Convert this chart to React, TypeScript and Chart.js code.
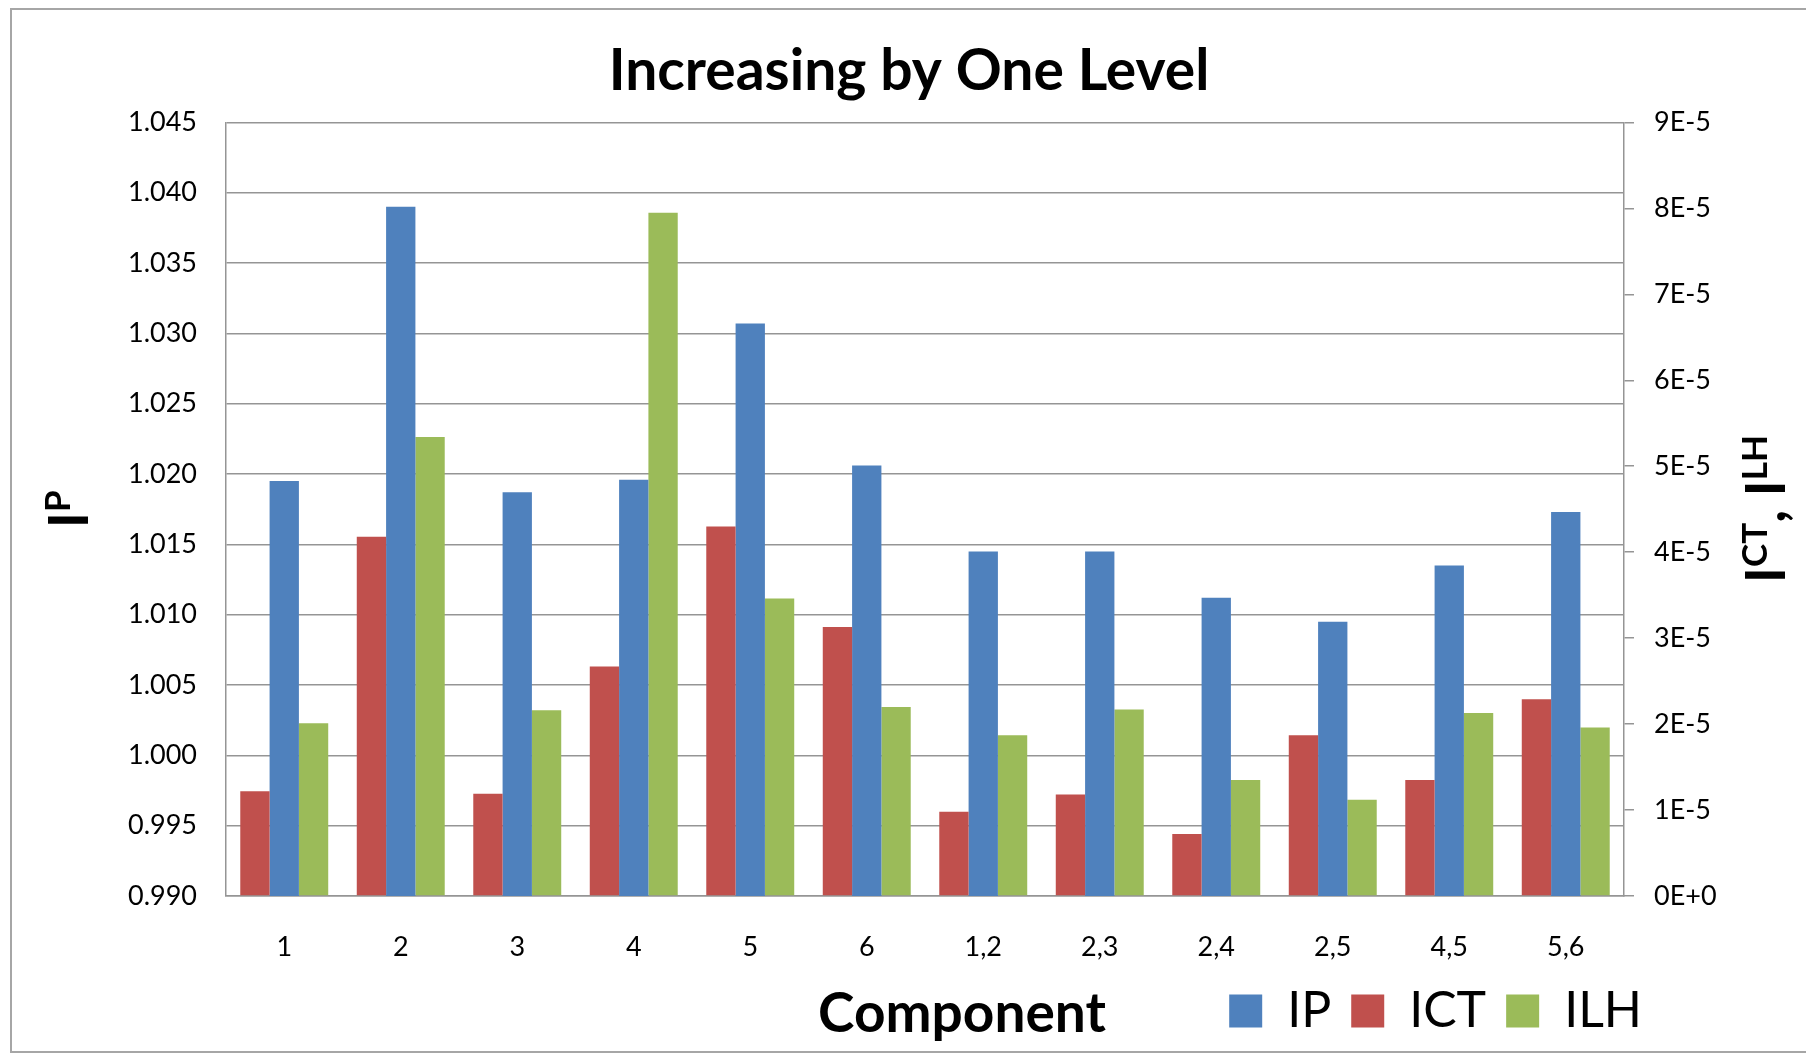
import { useEffect, useRef } from 'react';
import { Chart, registerables } from 'chart.js';

Chart.register(...registerables);

const FONT = 'Lato';

const chartTitle = 'Increasing by One Level';
const xAxisTitle = 'Component';
const categories = ['1', '2', '3', '4', '5', '6', '1,2', '2,3', '2,4', '2,5', '4,5', '5,6'];
const seriesNames = ['IP', 'ICT', 'ILH'];
const ipValues = [1.0195, 1.039, 1.0187, 1.0196, 1.0307, 1.0206, 1.0145, 1.0145, 1.0112, 1.0095, 1.0135, 1.0173];
const ictValues = [1.22e-5, 4.18e-5, 1.19e-5, 2.67e-5, 4.3e-5, 3.13e-5, 0.98e-5, 1.18e-5, 0.72e-5, 1.87e-5, 1.35e-5, 2.29e-5];
const ilhValues = [2.01e-5, 5.34e-5, 2.16e-5, 7.95e-5, 3.46e-5, 2.2e-5, 1.87e-5, 2.17e-5, 1.35e-5, 1.12e-5, 2.13e-5, 1.96e-5];

const leftAxis = { min: 0.99, max: 1.045, step: 0.005 };
const rightAxis = { min: 0, max: 9e-5, step: 1e-5 };

const BLUE = '#4F81BD';
const RED = '#C0504D';
const GREEN = '#9BBB59';
const GRID = '#959595';

function fmtExp(v: number): string {
  if (Math.abs(v) < 1e-20) return '0E+0';
  const e = Math.floor(Math.log10(Math.abs(v)) + 1e-9);
  const m = Math.round(v / Math.pow(10, e));
  return `${m}E${e < 0 ? '-' : '+'}${Math.abs(e)}`;
}

type Part = [string, boolean];

function drawRotatedWithSup(ctx: CanvasRenderingContext2D, baseX: number, centerY: number, parts: Part[]) {
  const big = `bold 55px ${FONT}`;
  const small = `bold 35px ${FONT}`;
  let total = 0;
  for (const [t, sup] of parts) {
    ctx.font = sup ? small : big;
    total += ctx.measureText(t).width;
  }
  ctx.save();
  ctx.translate(baseX, centerY);
  ctx.rotate(-Math.PI / 2);
  ctx.textAlign = 'left';
  ctx.textBaseline = 'alphabetic';
  let x = -total / 2;
  for (const [t, sup] of parts) {
    ctx.font = sup ? small : big;
    ctx.fillText(t, x, sup ? -18 : 0);
    x += ctx.measureText(t).width;
  }
  ctx.restore();
}

const axisTitlesPlugin = {
  id: 'axisTitles',
  afterLayout(chart: any) {
    // place the legend row so that it ends just right of the plot, beside the x-axis title
    const lg = chart.legend;
    if (lg) {
      const w = lg.right - lg.left;
      lg.right = chart.chartArea.right + 38;
      lg.left = lg.right - w;
    }
  },
  afterDraw(chart: any) {
    const ctx: CanvasRenderingContext2D = chart.ctx;
    const a = chart.chartArea;
    const cy = (a.top + a.bottom) / 2;
    ctx.save();
    ctx.fillStyle = '#000';
    drawRotatedWithSup(ctx, a.left - 138, cy, [['I', false], ['P', true]]);
    drawRotatedWithSup(ctx, a.right + 161, cy, [
      ['I', false],
      ['CT', true],
      [', ', false],
      ['I', false],
      ['LH', true],
    ]);
    ctx.font = `bold 55px ${FONT}`;
    ctx.textAlign = 'center';
    ctx.textBaseline = 'middle';
    ctx.fillText(xAxisTitle, (a.left + a.right) / 2 + 37, a.bottom + 118);
    ctx.restore();
  },
};

export default function App() {
  const ref = useRef<HTMLCanvasElement>(null);

  useEffect(() => {
    document.body.style.margin = '0';
    document.body.style.overflow = 'hidden';
    const canvas = ref.current;
    if (!canvas) return;
    const tickFont = { family: FONT, size: 27 };
    const chart = new Chart(canvas, {
      type: 'bar',
      data: {
        labels: categories,
        datasets: [
          { label: seriesNames[0], data: ipValues, backgroundColor: BLUE, borderColor: BLUE, borderWidth: 0, yAxisID: 'yP', order: 1 },
          { label: seriesNames[1], data: ictValues, backgroundColor: RED, borderColor: RED, borderWidth: 0, yAxisID: 'yC', order: 0 },
          { label: seriesNames[2], data: ilhValues, backgroundColor: GREEN, borderColor: GREEN, borderWidth: 0, yAxisID: 'yC', order: 2 },
        ],
      },
      options: {
        responsive: false,
        animation: false,
        datasets: { bar: { categoryPercentage: 0.755, barPercentage: 1 } },
        layout: { padding: { left: 100, right: 88, top: 0, bottom: 9 } },
        plugins: {
          title: {
            display: true,
            text: chartTitle,
            color: '#000',
            font: { family: FONT, size: 57, weight: 'bold' },
            padding: { top: 37, bottom: 17 },
          },
          legend: {
            position: 'bottom',
            align: 'end',
            labels: {
              font: { family: FONT, size: 50 },
              color: '#000',
              boxWidth: 33,
              boxHeight: 33,
              padding: 20,
              sort: (a: any, b: any) => a.datasetIndex - b.datasetIndex,
            },
          },
          tooltip: { enabled: false },
        },
        scales: {
          x: {
            grid: { display: false, drawTicks: false },
            border: { display: true, color: GRID, width: 1.5 },
            ticks: { font: tickFont, color: '#000', padding: 35, maxRotation: 0, autoSkip: false },
            afterFit: (s: any) => {
              s.height = 70;
            },
          },
          yP: {
            type: 'linear',
            position: 'left',
            min: leftAxis.min,
            max: leftAxis.max,
            beginAtZero: false,
            grid: { color: GRID, lineWidth: 1.5, drawTicks: false },
            border: { display: true, color: GRID, width: 1.5 },
            ticks: {
              stepSize: leftAxis.step,
              font: tickFont,
              color: '#000',
              padding: 29,
              callback: (v: any) => Number(v).toFixed(3),
            },
            afterFit: (s: any) => {
              s.width = 126;
            },
          },
          yC: {
            type: 'linear',
            position: 'right',
            min: rightAxis.min,
            max: rightAxis.max,
            grid: { drawOnChartArea: false, color: GRID, lineWidth: 1.5, tickLength: 10 },
            border: { display: true, color: GRID, width: 1.5 },
            ticks: {
              stepSize: rightAxis.step,
              font: tickFont,
              color: '#000',
              padding: 20,
              callback: (v: any) => fmtExp(Number(v)),
            },
            afterFit: (s: any) => {
              s.width = 94;
            },
          },
        },
      } as any,
      plugins: [axisTitlesPlugin],
    });
    return () => chart.destroy();
  }, []);

  return (
    <div style={{ position: 'relative', width: 1806, height: 1055, overflow: 'hidden', background: '#fff' }}>
      <div
        style={{
          position: 'absolute',
          left: 10,
          top: 8,
          width: 1900,
          height: 1045,
          border: '2px solid #a6a6a6',
          boxSizing: 'border-box',
        }}
      />
      <canvas
        ref={ref}
        width={1806}
        height={1055}
        style={{ position: 'absolute', left: 0, top: 0, width: 1806, height: 1055 }}
      />
    </div>
  );
}
